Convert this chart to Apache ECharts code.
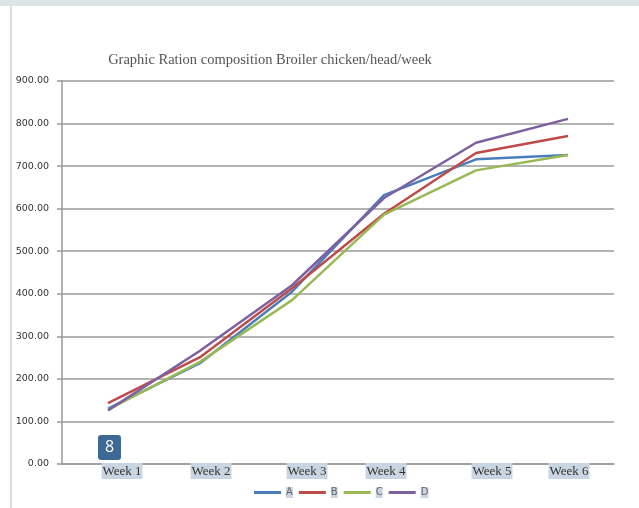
<!DOCTYPE html>
<html>
<head>
<meta charset="utf-8">
<script src="https://cdn.jsdelivr.net/npm/echarts@6/dist/echarts.min.js"></script>
<style>
  html, body { margin: 0; padding: 0; background: #fff; }
  #chart { width: 639px; height: 508px; }
</style>
</head>
<body>
<div id="chart"></div>
<script>
// Weekly ration per head for four broiler diets
const weeks = ['Week 1', 'Week 2', 'Week 3', 'Week 4', 'Week 5', 'Week 6'];
const seriesA = [130, 237, 405, 632, 716, 726];
const seriesB = [143, 251, 413, 588, 731, 771];
const seriesC = [128, 240, 385, 586, 690, 726];
const seriesD = [126, 266, 420, 625, 755, 811];
const yTicks = [0, 100, 200, 300, 400, 500, 600, 700, 800, 900];

// small horizontal nudges for each week label (px)
const labelNudge = [14, 11, 15, 2, 16, 1];

const colors = ['#4a7ebb', '#be4b48', '#98b954', '#7d60a0'];
const names = ['A', 'B', 'C', 'D'];
const values = [seriesA, seriesB, seriesC, seriesD];

const rich = {
  w: {
    fontFamily: '"Liberation Serif", "Times New Roman", serif',
    fontSize: 13,
    color: '#333',
    backgroundColor: '#c9d6e2',
    padding: [2, 1, 1, 1]
  }
};
labelNudge.forEach((d, i) => {
  rich['s' + i] = { width: d * 2, height: 1 };
});

const chart = echarts.init(document.getElementById('chart'), null, { renderer: 'canvas' });

chart.setOption({
  backgroundColor: '#ffffff',
  animation: false,
  color: colors,
  title: {
    text: 'Graphic Ration composition Broiler chicken/head/week',
    left: 265,
    top: 48,
    textAlign: 'center',
    textStyle: {
      fontFamily: '"Liberation Serif", "Times New Roman", serif',
      fontWeight: 'normal',
      fontSize: 14.5,
      color: '#555'
    }
  },
  legend: {
    data: names,
    top: 482,
    left: 249,
    icon: 'rect',
    itemWidth: 27,
    itemHeight: 3,
    itemGap: 6,
    textStyle: {
      fontFamily: '"DejaVu Sans", sans-serif',
      fontSize: 10,
      color: '#666',
      backgroundColor: '#c9d6e2',
      padding: [1, 0, 0, 0]
    }
  },
  grid: { left: 62, right: 25, top: 81, bottom: 44, containLabel: false },
  xAxis: {
    type: 'category',
    data: weeks,
    boundaryGap: true,
    axisLine: { lineStyle: { color: '#9a9a9a', width: 1.5 } },
    axisTick: { show: false },
    axisLabel: {
      margin: -1,
      interval: 0,
      formatter: (v, i) => '{s' + i + '|}{w|' + v + '}',
      rich: rich
    },
    splitLine: { show: false }
  },
  yAxis: {
    type: 'value',
    min: yTicks[0],
    max: yTicks[yTicks.length - 1],
    interval: 100,
    axisLine: { show: true, lineStyle: { color: '#9a9a9a', width: 1.5 } },
    axisTick: { show: true, length: 5, lineStyle: { color: '#9a9a9a', width: 1.5 } },
    axisLabel: {
      margin: 13,
      fontFamily: '"DejaVu Sans", sans-serif',
      fontSize: 9.5,
      color: '#333',
      formatter: v => v.toFixed(2)
    },
    splitLine: { show: true, lineStyle: { color: '#9a9a9a', width: 1.5 } }
  },
  series: names.map((n, i) => ({
    name: n,
    type: 'line',
    data: values[i],
    symbol: 'none',
    lineStyle: { width: 2.5, color: colors[i] },
    itemStyle: { color: colors[i] }
  })),
  graphic: [
    { type: 'rect', left: 0, top: 0, shape: { width: 639, height: 6 }, style: { fill: '#dbe5e7' }, silent: true },
    { type: 'line', shape: { x1: 11, y1: 6, x2: 11, y2: 508 }, style: { stroke: '#d0d0d0', lineWidth: 1.5 }, silent: true },
    {
      type: 'group', left: 98, top: 435, children: [
        { type: 'rect', shape: { x: 0, y: 0, width: 23, height: 25, r: 3 }, style: { fill: '#3c6a94' } },
        { type: 'text', x: 11.5, y: 12.5, style: { text: '8', fill: '#fff', fontSize: 16, fontFamily: '"Open Sans", "DejaVu Sans", sans-serif', align: 'center', verticalAlign: 'middle' } }
      ]
    }
  ]
});
</script>
</body>
</html>
